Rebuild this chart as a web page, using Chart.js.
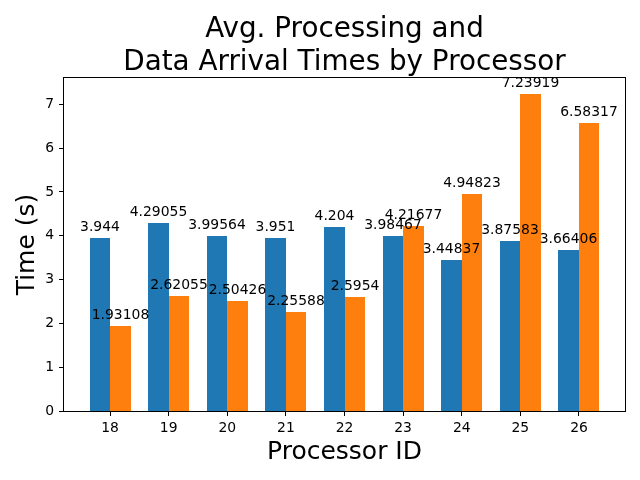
<!DOCTYPE html>
<html>
<head>
<meta charset="utf-8">
<script src="https://cdn.jsdelivr.net/npm/chart.js@4.4.1/dist/chart.umd.min.js"></script>
<style>
  html, body { margin: 0; padding: 0; background: #fff; }
</style>
</head>
<body>
<canvas id="chart" width="640" height="480"></canvas>
<script>
// data
const processorIds = [18, 19, 20, 21, 22, 23, 24, 25, 26]
const processingTimes = [3.944, 4.29055, 3.99564, 3.951, 4.204, 3.98467, 3.44837, 3.87583, 3.66406]
const arrivalTimes = [1.93108, 2.62055, 2.50426, 2.25588, 2.5954, 4.21677, 4.94823, 7.23919, 6.58317]
const yTicks = [0, 1, 2, 3, 4, 5, 6, 7]
const titleLines = ['Avg. Processing and', 'Data Arrival Times by Processor']

const FONT = '"DejaVu Sans", sans-serif'

// matplotlib style limits: bars are 0.35 wide each side, 5% margin
const span = processorIds[processorIds.length - 1] - processorIds[0] + 0.7
const xMin = processorIds[0] - 0.35 - 0.05 * span
const xMax = processorIds[processorIds.length - 1] + 0.35 + 0.05 * span
const yMax = Math.max(...processingTimes, ...arrivalTimes) * 1.05

// snap bar edges to whole pixels so they look crisp like the original
const snapBars = {
    id: 'snapBars',
    beforeDatasetsDraw(chart) {
        chart.data.datasets.forEach((ds, i) => {
            chart.getDatasetMeta(i).data.forEach(bar => {
                const left = Math.round(bar.x - bar.width / 2)
                const right = Math.round(bar.x + bar.width / 2)
                bar.x = (left + right) / 2
                bar.width = right - left
                bar.y = Math.round(bar.y)
                bar.base = Math.round(bar.base)
            })
        })
    }
}

const barLabels = {
    id: 'barLabels',
    afterDatasetsDraw(chart) {
        const ctx = chart.ctx
        ctx.save()
        ctx.font = '13.9px ' + FONT
        ctx.fillStyle = '#000'
        ctx.textAlign = 'center'
        ctx.textBaseline = 'alphabetic'
        chart.data.datasets.forEach((ds, i) => {
            chart.getDatasetMeta(i).data.forEach((bar, j) => {
                ctx.fillText(String(ds.data[j].y), bar.x, bar.y - 7)
            })
        })
        ctx.restore()
    }
}

const frameAndTitle = {
    id: 'frameAndTitle',
    afterDraw(chart) {
        const ctx = chart.ctx
        const a = chart.chartArea
        ctx.save()
        ctx.strokeStyle = '#000'
        ctx.lineWidth = 1
        ctx.strokeRect(Math.round(a.left) - 0.5, Math.round(a.top) - 0.5, Math.round(a.right - a.left) + 1, Math.round(a.bottom - a.top) + 1)

        ctx.font = '27.8px ' + FONT
        ctx.fillStyle = '#000'
        ctx.textAlign = 'center'
        ctx.textBaseline = 'alphabetic'
        const cx = (a.left + a.right) / 2
        ctx.fillText(titleLines[0], cx, a.top - 41)
        ctx.fillText(titleLines[1], cx, a.top - 8)
        ctx.restore()
    }
}

const barStyle = { categoryPercentage: 0.7, barPercentage: 1.0, borderWidth: 0, inflateAmount: 0 }

new Chart(document.querySelector('#chart'), {
    type: 'bar',
    data: {
        datasets: [{
            label: 'Processing',
            data: processorIds.map((id, i) => ({ x: id, y: processingTimes[i] })),
            backgroundColor: '#1f77b4',
            ...barStyle
        }, {
            label: 'Arrival',
            data: processorIds.map((id, i) => ({ x: id, y: arrivalTimes[i] })),
            backgroundColor: '#ff7f0e',
            ...barStyle
        }]
    },
    options: {
        responsive: false,
        animation: false,
        layout: { padding: { top: 78, right: 15, left: 0, bottom: 0 } },
        plugins: {
            legend: { display: false },
            tooltip: { enabled: false }
        },
        scales: {
            x: {
                type: 'linear',
                offset: false,
                min: xMin,
                max: xMax,
                afterBuildTicks: scale => { scale.ticks = processorIds.map(v => ({ value: v })) },
                afterFit: scale => { scale.height = 69 },
                border: { display: false },
                grid: { offset: false, drawOnChartArea: false, drawTicks: true, tickLength: 5, color: '#000' },
                ticks: { color: '#000', font: { family: FONT, size: 13.9 }, padding: 4, maxRotation: 0 },
                title: { display: true, text: 'Processor ID', color: '#000', font: { family: FONT, size: 25 }, padding: { bottom: 13 } }
            },
            y: {
                min: 0,
                max: yMax,
                afterBuildTicks: scale => { scale.ticks = yTicks.map(v => ({ value: v })) },
                afterFit: scale => { scale.width = 64 },
                border: { display: false },
                grid: { drawOnChartArea: false, drawTicks: true, tickLength: 5, color: '#000' },
                ticks: { color: '#000', font: { family: FONT, size: 13.9 }, padding: 5 },
                title: { display: true, text: 'Time (s)', color: '#000', font: { family: FONT, size: 25 }, padding: { top: 12 } }
            }
        }
    },
    plugins: [snapBars, barLabels, frameAndTitle]
})
</script>
</body>
</html>
